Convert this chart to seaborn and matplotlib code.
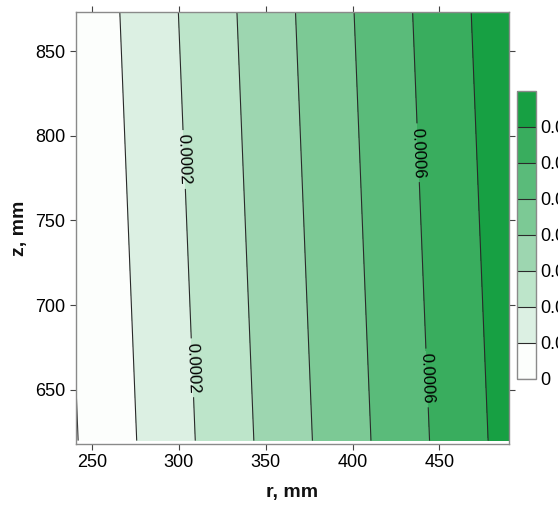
"""
Filled contour map of the field over r-z
"""

import numpy as np
import matplotlib
matplotlib.use("Agg")
import matplotlib.pyplot as plt
import seaborn as sns
from matplotlib.colors import ListedColormap, BoundaryNorm
from matplotlib.cm import ScalarMappable
from matplotlib.ticker import FixedLocator, FixedFormatter

# grid (r across, z down the rows)
r_mm = [240, 300, 360, 420, 490]
z_mm = [620, 750, 875]
field = [
    [-0.0000062, 0.0001718, 0.0003498, 0.0005278, 0.0007355],
    [0.0000086, 0.0001866, 0.0003646, 0.0005427, 0.0007504],
    [0.0000228, 0.0002009, 0.0003789, 0.0005569, 0.0007646],
]

levels = [0, 0.0001, 0.0002, 0.0003, 0.0004, 0.0005, 0.0006, 0.0007, 0.0008]
labelled = [0.0002, 0.0006]
cbar_labels = ["0", "0.0001", "0.0002", "0.0003", "0.0004", "0.0005", "0.0006", "0.0007"]
band_colors = ["#fcfefc", "#dcf0e3", "#bde5ca", "#9dd6b0", "#7cc995",
               "#5abb7a", "#39ad5e", "#17a043"]

# where the contour labels sit (data coords)
label_pos = [(303, 786), (308, 663), (438, 790), (443, 657)]

sns.set_theme(style="ticks")
plt.rcParams['font.family'] = ['Liberation Sans', 'DejaVu Sans']

R, Z = np.meshgrid(r_mm, z_mm)
F = np.array(field)

cmap = ListedColormap(band_colors)
norm = BoundaryNorm(levels, cmap.N)

fig = plt.figure(figsize=(5.58, 5.08), dpi=100)
ax = fig.add_axes([0.136, 0.126, 0.776, 0.850])
cax = fig.add_axes([0.9265, 0.254, 0.034, 0.567])

cf = ax.contourf(R, Z, F, levels=levels, cmap=cmap, norm=norm, extend="min")
plain = [v for v in levels[:-1] if v not in labelled]
cl = ax.contour(R, Z, F, levels=plain, colors="#2a2a2a", linewidths=0.8)
cl2 = ax.contour(R, Z, F, levels=labelled, colors="#2a2a2a", linewidths=0.8)
ax.clabel(cl2, manual=label_pos, fmt="%.4f", colors="black",
          fontsize=12, inline=True, inline_spacing=4)

ax.set_xlim(240.8, 490)
ax.set_ylim(618, 873)
ax.set_xticks([250, 300, 350, 400, 450])
ax.set_yticks([650, 700, 750, 800, 850])
ax.tick_params(direction="out", length=4, width=0.8, labelsize=13,
               top=True, right=True, color="#444444", labelcolor="black")
for s in ax.spines.values():
    s.set_color("#8a8a8a")
    s.set_linewidth(1.0)
ax.set_xlabel("r, mm", fontsize=14, fontweight="bold", color="#111111", labelpad=9)
ax.set_ylabel("z, mm", fontsize=14, fontweight="bold", color="#111111", labelpad=5)

sm = ScalarMappable(norm=norm, cmap=cmap)
mids = [(a + b) / 2 for a, b in zip(levels[:-1], levels[1:])]
cb = fig.colorbar(sm, cax=cax, boundaries=levels, values=mids)
cb.add_lines(cl)
cb.add_lines(cl2, erase=False)
cb.outline.set_edgecolor("#8a8a8a")
cb.outline.set_linewidth(1.0)
cax.yaxis.set_major_locator(FixedLocator(levels[:-1]))
cax.yaxis.set_major_formatter(FixedFormatter(cbar_labels))
cax.yaxis.set_minor_locator(FixedLocator([]))
cax.tick_params(length=0, labelsize=13, pad=3, labelcolor="black")

fig.savefig("out.png", dpi=100)
